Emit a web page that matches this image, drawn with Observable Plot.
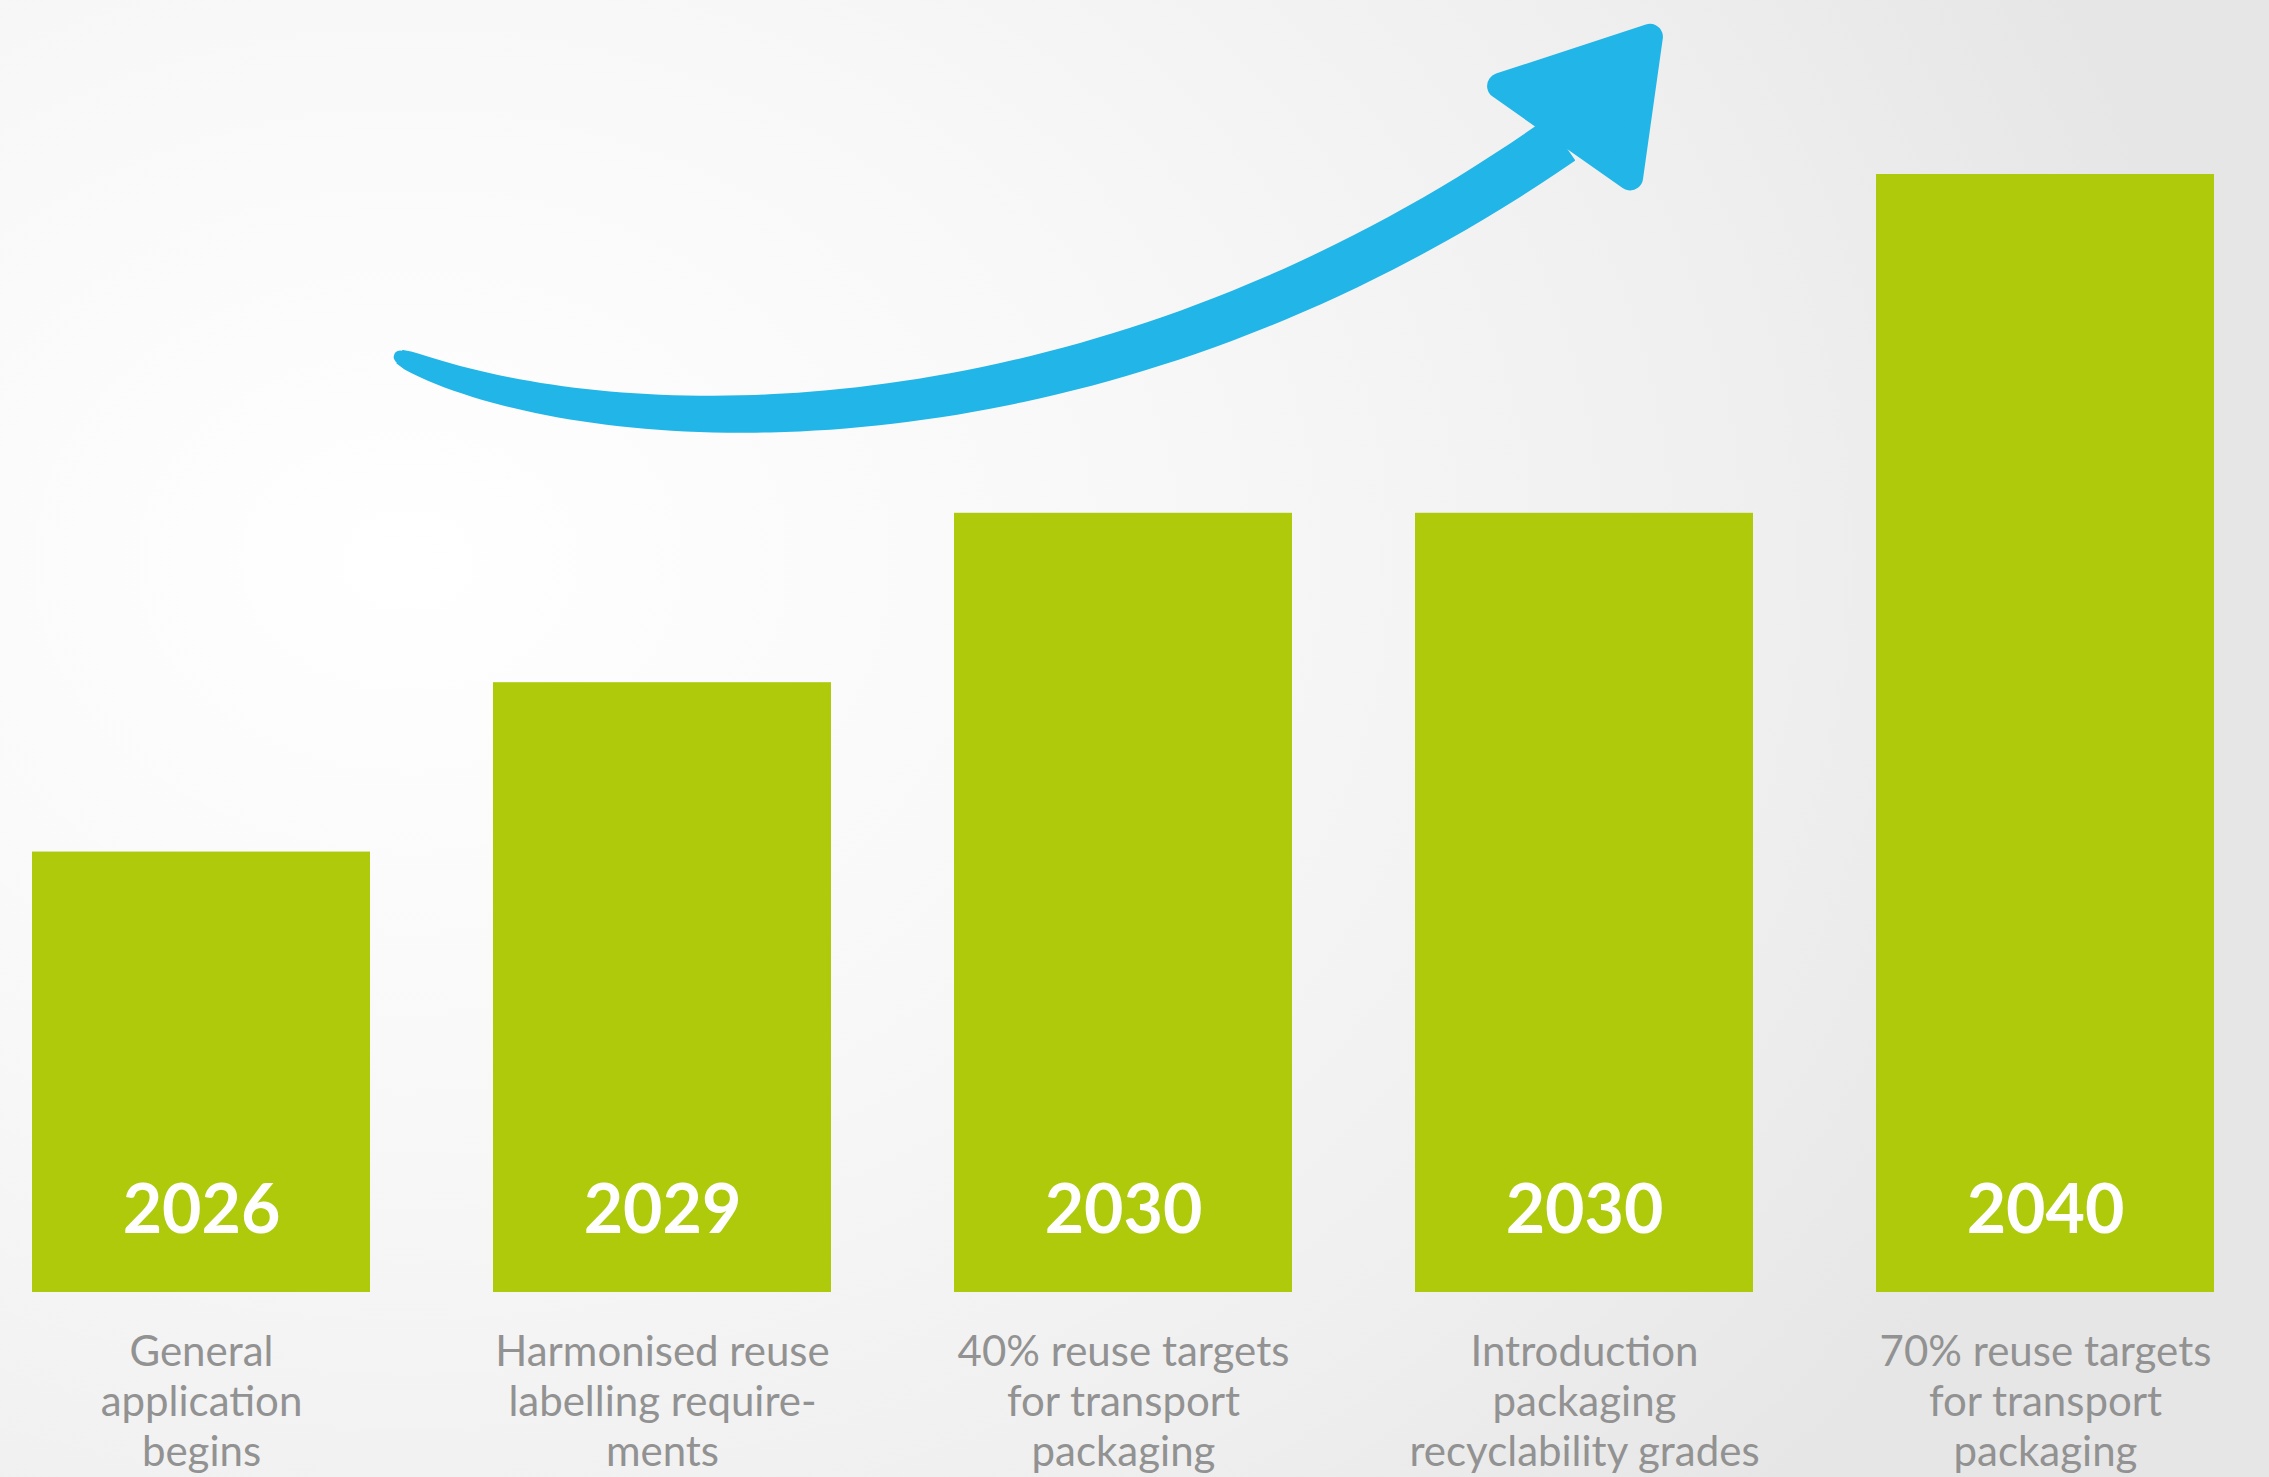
<!DOCTYPE html>
<html>
<head>
<meta charset="utf-8">
<script src="https://cdn.jsdelivr.net/npm/d3@7"></script>
<script src="https://cdn.jsdelivr.net/npm/@observablehq/plot@0.6"></script>
<style>
  html, body { margin: 0; padding: 0; overflow: hidden; }
  body {
    width: 2269px; height: 1477px;
    background: radial-gradient(ellipse 80% 95% at 18% 38%, #ffffff 0%, #f8f8f8 40%, #efefef 75%, #e6e6e6 100%);
  }
  #chart svg { display: block; }
</style>
</head>
<body>
<div id="chart"></div>
<script>
// ---- data ----
const years = ["2026", "2029", "2030", "2030", "2040"];
const descriptions = [
  "General\napplication\nbegins",
  "Harmonised reuse\nlabelling require-\nments",
  "40% reuse targets\nfor transport\npackaging",
  "Introduction\npackaging\nrecyclability grades",
  "70% reuse targets\nfor transport\npackaging"
];
const levels = [2.6, 3.6, 4.6, 4.6, 6.6];

// decorative arrow, in chart units (u = bar steps from first bar centre, v = level units)
const arrowCurve = [[0.432, 5.52], [0.85, 5.0], [1.92, 4.85], [2.948, 6.8]];
const arrowHead = [[2.818, 7.12], [3.143, 7.41], [3.100, 6.58]];

const data = years.map((y, i) => ({key: descriptions[i], year: y, desc: descriptions[i], level: levels[i]}));

const GREEN = "#afca0b";
const BLUE = "#22b5e8";

const plot = Plot.plot({
  width: 2269,
  height: 1477,
  marginLeft: 32,
  marginRight: 55,
  marginTop: 174,
  marginBottom: 185,
  style: {background: "transparent", overflow: "visible"},
  x: {domain: descriptions, paddingInner: 0.267, paddingOuter: 0, axis: null},
  y: {domain: [0, 6.6], axis: null},
  marks: [
    Plot.barY(data, {x: "key", y: "level", fill: GREEN}),
    Plot.text(data, {
      x: "key", y: 0, text: "year", fill: "white",
      fontFamily: "Lato", fontWeight: 700, fontSize: 68,
      lineAnchor: "middle", dy: -81
    }),
    Plot.text(data, {
      x: "key", y: 0, text: "desc", fill: "#929292",
      fontFamily: "Lato", fontWeight: 400, fontSize: 42,
      lineAnchor: "top", lineHeight: 1.19, dy: 38
    })
  ]
});

document.getElementById("chart").appendChild(plot);

// ---- arrow drawn through the chart scales ----
const xs = plot.scale("x"), ys = plot.scale("y");
const x0 = xs.apply(descriptions[0]) + xs.bandwidth / 2;
const step = xs.apply(descriptions[1]) - xs.apply(descriptions[0]);
const toPx = ([u, v]) => [x0 + u * step, ys.apply(v)];

const [P0, P1, P2, P3] = arrowCurve.map(toPx);
function bez(t) {
  const m = 1 - t;
  return [
    m*m*m*P0[0] + 3*m*m*t*P1[0] + 3*m*t*t*P2[0] + t*t*t*P3[0],
    m*m*m*P0[1] + 3*m*m*t*P1[1] + 3*m*t*t*P2[1] + t*t*t*P3[1]
  ];
}
function dbez(t) {
  const m = 1 - t;
  return [
    3*m*m*(P1[0]-P0[0]) + 6*m*t*(P2[0]-P1[0]) + 3*t*t*(P3[0]-P2[0]),
    3*m*m*(P1[1]-P0[1]) + 6*m*t*(P2[1]-P1[1]) + 3*t*t*(P3[1]-P2[1])
  ];
}
const N = 80, left = [], right = [];
for (let i = 0; i <= N; i++) {
  const t = i / N;
  const [px, py] = bez(t);
  let [dx, dy] = dbez(t);
  const len = Math.hypot(dx, dy) || 1;
  const nx = -dy / len, ny = dx / len;
  const w = (13 + 36 * Math.sqrt(t)) / 2;
  left.push([px + nx * w, py + ny * w]);
  right.push([px - nx * w, py - ny * w]);
}
const outline = left.concat(right.reverse());
const svg = d3.select(plot);
const g = svg.append("g").attr("class", "arrow");
g.append("path")
  .attr("d", d3.line().curve(d3.curveLinearClosed)(outline))
  .attr("fill", BLUE)
  .attr("stroke", BLUE)
  .attr("stroke-width", 2)
  .attr("stroke-linejoin", "round");
// rounded tail cap
g.append("circle")
  .attr("cx", P0[0]).attr("cy", P0[1]).attr("r", 6.5).attr("fill", BLUE);
g.append("path")
  .attr("d", d3.line().curve(d3.curveLinearClosed)(arrowHead.map(toPx)))
  .attr("fill", BLUE)
  .attr("stroke", BLUE)
  .attr("stroke-width", 26)
  .attr("stroke-linejoin", "round");
</script>
</body>
</html>
